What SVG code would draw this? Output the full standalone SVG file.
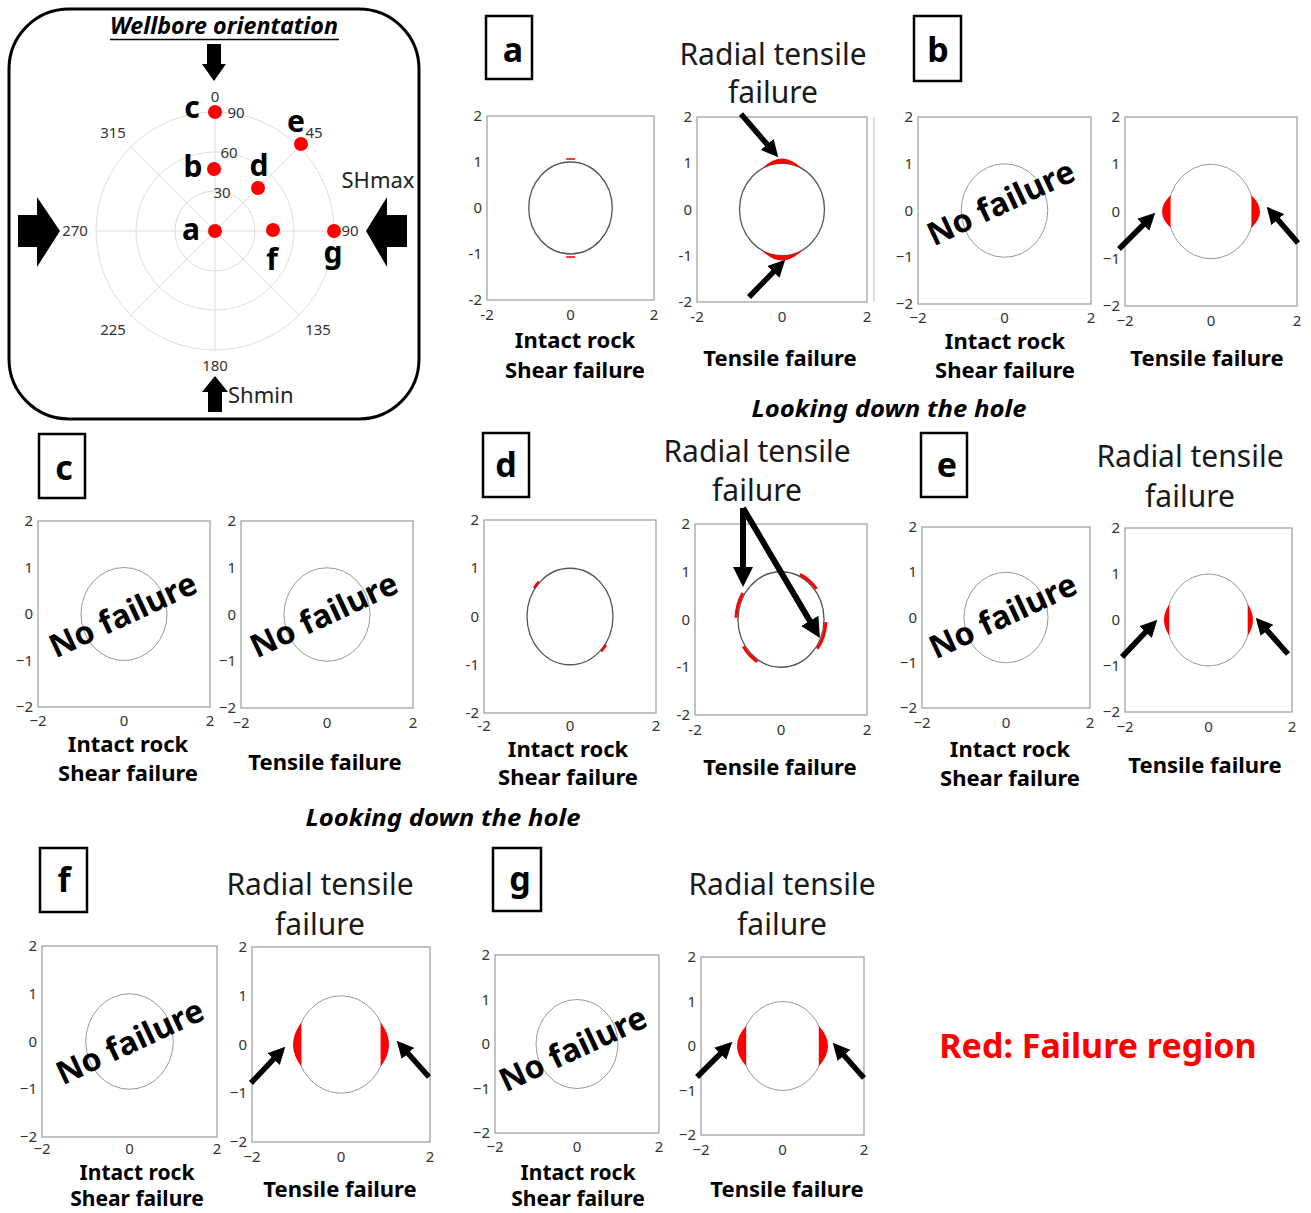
<svg xmlns="http://www.w3.org/2000/svg" width="1311" height="1213" viewBox="0 0 1311 1213">
<defs>
<style>
text{font-family:"Noto Sans","Open Sans","Liberation Sans",sans-serif}
.ax{fill:none;stroke:#9a9a9a;stroke-width:1.2}
.bd{fill:none;stroke:#555;stroke-width:1.3}
.bl{fill:none;stroke:#999;stroke-width:1}
.tkl{font-size:15px;fill:#333;text-anchor:end}
.tkb{font-size:15px;fill:#333;text-anchor:middle}
.cap{font-size:22px;font-weight:700;fill:#000;text-anchor:middle}
.cs{font-size:21px}
.ttl{font-size:30px;fill:#1a1a1a;text-anchor:middle}
.nf{font-size:32px;font-weight:700;fill:#000;text-anchor:middle}
.lb{fill:#fff;stroke:#000;stroke-width:2.5}
.lbt{font-size:34px;font-weight:700;fill:#000;text-anchor:middle}
.red{fill:#f00;stroke:none}
.redl{fill:none;stroke:#f00;stroke-width:3}
.arr{stroke:#000;stroke-width:5.5;fill:none;marker-end:url(#ah)}
.arrL{stroke:#000;stroke-width:6;fill:none;marker-end:url(#ahL)}
.grid{fill:none;stroke:#ddd;stroke-width:1}
.pl{font-size:15px;fill:#333;text-anchor:middle}
.pt{font-size:30px;font-weight:700;fill:#000;text-anchor:middle}
.look{font-size:23px;font-weight:700;font-style:italic;fill:#000;text-anchor:middle}
</style>
<marker id="ah" viewBox="0 0 16 16" refX="10" refY="8" markerWidth="17" markerHeight="17" markerUnits="userSpaceOnUse" orient="auto"><path d="M0,0 L16,8 L0,16 z" fill="#000"/></marker>
<marker id="ahL" viewBox="0 0 20 20" refX="13" refY="10" markerWidth="20" markerHeight="20" markerUnits="userSpaceOnUse" orient="auto"><path d="M0,0 L20,10 L0,20 z" fill="#000"/></marker>
</defs>
<rect width="1311" height="1213" fill="#fff"/>

<g id="orientation">
<rect x="9" y="9" width="410" height="410" rx="60" fill="#fff" stroke="#000" stroke-width="3"/>
<text x="224" y="34" class="look" textLength="228" lengthAdjust="spacingAndGlyphs">Wellbore orientation</text>
<line x1="110" y1="39.5" x2="339" y2="39.5" stroke="#000" stroke-width="1.5"/>
<circle class="grid" cx="215" cy="231" r="40"/>
<circle class="grid" cx="215" cy="231" r="79"/>
<circle class="grid" cx="215" cy="231" r="119"/>
<path class="grid" d="M215,112 V350 M96,231 H334 M130.9,146.9 L299.1,315.1 M299.1,146.9 L130.9,315.1"/>
<polygon points="207,44 221,44 221,64 226,64 214,81 202,64 207,64" fill="#000"/>
<polygon points="215,376 228,392 222,392 222,412 208,412 208,392 202,392" fill="#000"/>
<polygon points="18,215 37,215 37,197 60,231 37,267 37,247 18,247" fill="#000"/>
<polygon points="407,215 387,215 387,197 366,231 387,267 387,247 407,247" fill="#000"/>
<g fill="#f00">
<circle cx="215" cy="231" r="7"/>
<circle cx="214" cy="169" r="7"/>
<circle cx="215" cy="112" r="7"/>
<circle cx="258" cy="188" r="7"/>
<circle cx="301" cy="144" r="7"/>
<circle cx="273" cy="230" r="7"/>
<circle cx="334" cy="231" r="7"/>
</g>
<text class="pt" x="192" y="118">c</text>
<text class="pt" x="193" y="177">b</text>
<text class="pt" x="191" y="240">a</text>
<text class="pt" x="259" y="176">d</text>
<text class="pt" x="296" y="132">e</text>
<text class="pt" x="272" y="270">f</text>
<text class="pt" x="333" y="263">g</text>
<text class="pl" x="215" y="102">0</text>
<text class="pl" x="236" y="118">90</text>
<text class="pl" x="113" y="138">315</text>
<text class="pl" x="314" y="138">45</text>
<text class="pl" x="229" y="158">60</text>
<text class="pl" x="222" y="198">30</text>
<text class="pl" x="75" y="236">270</text>
<text class="pl" x="350" y="236">90</text>
<text class="pl" x="113" y="335">225</text>
<text class="pl" x="318" y="335">135</text>
<text class="pl" x="215" y="371">180</text>
<text x="378" y="188" font-size="22" fill="#222" text-anchor="middle">SHmax</text>
<text x="228" y="403" font-size="22" fill="#222">Shmin</text>
</g>

<g id="captions">
<text class="look" x="889" y="417" textLength="275" lengthAdjust="spacingAndGlyphs">Looking down the hole</text>
<text class="look" x="443" y="826" textLength="275" lengthAdjust="spacingAndGlyphs">Looking down the hole</text>
<text x="1098" y="1058" font-size="34" font-weight="700" fill="#f00" text-anchor="middle">Red: Failure region</text>
<line x1="874" y1="117" x2="874" y2="302" stroke="#bbb" stroke-width="1"/>
</g>

<!-- Panel a -->
<g id="panel-a">
<rect class="lb" x="486" y="16" width="46" height="63"/>
<text class="lbt" x="513" y="62">a</text>
<text class="ttl" x="773" y="65">Radial tensile</text>
<text class="ttl" x="773" y="103">failure</text>
<g id="a-left" transform="translate(487,116)">
<rect class="ax" width="167" height="184"/>
<ellipse class="bd" cx="83.5" cy="92" rx="41.75" ry="46"/>
<path d="M79,43 H88 M79,141 H88" stroke="#f00" stroke-width="1.5"/>
<text class="tkl" x="-5" y="5">2</text><text class="tkl" x="-5" y="51">1</text><text class="tkl" x="-5" y="97">0</text><text class="tkl" x="-5" y="143">-1</text><text class="tkl" x="-5" y="189">-2</text>
<text class="tkb" x="0" y="204">-2</text><text class="tkb" x="83.5" y="204">0</text><text class="tkb" x="167" y="204">2</text>
</g>
<g id="a-right" transform="translate(697,117)">
<rect class="ax" width="170" height="185"/>
<ellipse class="bd" cx="85" cy="92.5" rx="42.5" ry="46.25"/>
<path class="red" d="M64.5,52.1 Q85,30.9 105.5,52.1 A42.5,46.25 0 0 0 64.5,52.1 Z M64.5,132.9 Q85,154.1 105.5,132.9 A42.5,46.25 0 0 1 64.5,132.9 Z"/>
<text class="tkl" x="-5" y="5">2</text><text class="tkl" x="-5" y="51.25">1</text><text class="tkl" x="-5" y="97.5">0</text><text class="tkl" x="-5" y="143.75">-1</text><text class="tkl" x="-5" y="190">-2</text>
<text class="tkb" x="0" y="205">-2</text><text class="tkb" x="85" y="205">0</text><text class="tkb" x="170" y="205">2</text>
</g>
<text class="cap" x="575" y="348">Intact rock</text>
<text class="cap" x="575" y="378">Shear failure</text>
<text class="cap" x="780" y="366">Tensile failure</text>
</g>

<!-- Panel b -->
<g id="panel-b">
<rect class="lb" x="914" y="16" width="47" height="65"/>
<text class="lbt" x="938" y="62">b</text>
<g id="b-left" transform="translate(918,117)">
<rect class="ax" width="173" height="187"/>
<ellipse class="bl" cx="86.5" cy="93.5" rx="43.25" ry="46.75"/>
<text class="tkl" x="-5" y="5">2</text><text class="tkl" x="-5" y="51.75">1</text><text class="tkl" x="-5" y="98.5">0</text><text class="tkl" x="-5" y="145.25">−1</text><text class="tkl" x="-5" y="192">−2</text>
<text class="tkb" x="0" y="206">−2</text><text class="tkb" x="86.5" y="206">0</text><text class="tkb" x="173" y="206">2</text>
</g>
<text class="nf" transform="translate(1001,203) rotate(-25)" y="11">No failure</text>
<g id="b-right" transform="translate(1125,117)">
<rect class="ax" width="172" height="189"/>
<ellipse class="bl" cx="86" cy="94.5" rx="43" ry="47.25"/>
<path class="red" d="M45.6,78.3 Q28.4,94.5 45.6,110.7 Z M126.4,78.3 Q143.6,94.5 126.4,110.7 Z"/>
<text class="tkl" x="-5" y="5">2</text><text class="tkl" x="-5" y="52.25">1</text><text class="tkl" x="-5" y="99.5">0</text><text class="tkl" x="-5" y="146.75">−1</text><text class="tkl" x="-5" y="194">−2</text>
<text class="tkb" x="0" y="209">−2</text><text class="tkb" x="86" y="209">0</text><text class="tkb" x="172" y="209">2</text>
</g>
<text class="cap" x="1005" y="349">Intact rock</text>
<text class="cap" x="1005" y="378">Shear failure</text>
<text class="cap" x="1207" y="366">Tensile failure</text>
</g>

<!-- Panel c -->
<g id="panel-c">
<rect class="lb" x="39" y="434" width="46" height="64"/>
<text class="lbt" x="64" y="480">c</text>
<g id="c-left" transform="translate(38,521)">
<rect class="ax" width="172" height="186"/>
<ellipse class="bl" cx="86" cy="93" rx="43" ry="46.5"/>
<text class="tkl" x="-5" y="5">2</text><text class="tkl" x="-5" y="51.5">1</text><text class="tkl" x="-5" y="98">0</text><text class="tkl" x="-5" y="144.5">−1</text><text class="tkl" x="-5" y="191">−2</text>
<text class="tkb" x="0" y="205">−2</text><text class="tkb" x="86" y="205">0</text><text class="tkb" x="172" y="205">2</text>
</g>
<text class="nf" transform="translate(123,615) rotate(-25)" y="11">No failure</text>
<g id="c-right" transform="translate(241,521)">
<rect class="ax" width="172" height="187"/>
<ellipse class="bl" cx="86" cy="93.5" rx="43" ry="46.75"/>
<text class="tkl" x="-5" y="5">2</text><text class="tkl" x="-5" y="51.75">1</text><text class="tkl" x="-5" y="98.5">0</text><text class="tkl" x="-5" y="145.25">−1</text><text class="tkl" x="-5" y="192">−2</text>
<text class="tkb" x="0" y="207">−2</text><text class="tkb" x="86" y="207">0</text><text class="tkb" x="172" y="207">2</text>
</g>
<text class="nf" transform="translate(324,615) rotate(-25)" y="11">No failure</text>
<text class="cap" x="128" y="752">Intact rock</text>
<text class="cap" x="128" y="781">Shear failure</text>
<text class="cap" x="325" y="770">Tensile failure</text>
</g>

<!-- Panel d -->
<g id="panel-d">
<rect class="lb" x="483" y="433" width="46" height="64"/>
<text class="lbt" x="506" y="477">d</text>
<text class="ttl" x="757" y="462">Radial tensile</text>
<text class="ttl" x="757" y="501">failure</text>
<g id="d-left" transform="translate(484,520)">
<rect class="ax" width="172" height="193"/>
<ellipse class="bd" cx="86" cy="96.5" rx="43" ry="48.25"/>
<path d="M54.9,61.7 A44,49.25 0 0 0 50,68.2 M117.1,131.3 A44,49.25 0 0 0 122,124.8" fill="none" stroke="#f00" stroke-width="2.5"/>
<text class="tkl" x="-5" y="5">2</text><text class="tkl" x="-5" y="53.25">1</text><text class="tkl" x="-5" y="101.5">0</text><text class="tkl" x="-5" y="149.75">-1</text><text class="tkl" x="-5" y="198">-2</text>
<text class="tkb" x="0" y="211">-2</text><text class="tkb" x="86" y="211">0</text><text class="tkb" x="172" y="211">2</text>
</g>
<g id="d-right" transform="translate(695,524)">
<rect class="ax" width="172" height="191"/>
<ellipse class="bd" cx="86" cy="95.5" rx="43" ry="47.75"/>
<path class="redl" d="M121.5,64.9 A45,49.75 0 0 0 105,50.4 M47.8,69.1 A45,49.75 0 0 0 41,93.8 M48.3,122.6 A45,49.75 0 0 0 62.2,137.7 M122.4,124.7 A45,49.75 0 0 0 130.9,98.1"/>
<text class="tkl" x="-5" y="5">2</text><text class="tkl" x="-5" y="52.75">1</text><text class="tkl" x="-5" y="100.5">0</text><text class="tkl" x="-5" y="148.25">-1</text><text class="tkl" x="-5" y="196">-2</text>
<text class="tkb" x="0" y="211">-2</text><text class="tkb" x="86" y="211">0</text><text class="tkb" x="172" y="211">2</text>
</g>
<text class="cap" x="568" y="757">Intact rock</text>
<text class="cap" x="568" y="785">Shear failure</text>
<text class="cap" x="780" y="775">Tensile failure</text>
</g>

<!-- Panel e -->
<g id="panel-e">
<rect class="lb" x="921" y="433" width="46" height="64"/>
<text class="lbt" x="947" y="477">e</text>
<text class="ttl" x="1190" y="467">Radial tensile</text>
<text class="ttl" x="1190" y="507">failure</text>
<g id="e-left" transform="translate(922,527)">
<rect class="ax" width="168" height="181"/>
<ellipse class="bl" cx="84" cy="90.5" rx="42" ry="45.25"/>
<text class="tkl" x="-5" y="5">2</text><text class="tkl" x="-5" y="50.25">1</text><text class="tkl" x="-5" y="95.5">0</text><text class="tkl" x="-5" y="140.75">−1</text><text class="tkl" x="-5" y="186">−2</text>
<text class="tkb" x="0" y="201">−2</text><text class="tkb" x="84" y="201">0</text><text class="tkb" x="168" y="201">2</text>
</g>
<text class="nf" transform="translate(1003,616) rotate(-25)" y="11">No failure</text>
<g id="e-right" transform="translate(1125,528)">
<rect class="ax" width="167" height="184"/>
<ellipse class="bl" cx="83.5" cy="92" rx="41.75" ry="46"/>
<path class="red" d="M44.3,76.3 Q33.7,92 44.3,107.7 Z M122.7,76.3 Q133.3,92 122.7,107.7 Z"/>
<text class="tkl" x="-5" y="5">2</text><text class="tkl" x="-5" y="51">1</text><text class="tkl" x="-5" y="97">0</text><text class="tkl" x="-5" y="143">−1</text><text class="tkl" x="-5" y="189">−2</text>
<text class="tkb" x="0" y="204">−2</text><text class="tkb" x="83.5" y="204">0</text><text class="tkb" x="167" y="204">2</text>
</g>
<text class="cap" x="1010" y="757">Intact rock</text>
<text class="cap" x="1010" y="786">Shear failure</text>
<text class="cap" x="1205" y="773">Tensile failure</text>
</g>

<!-- Panel f -->
<g id="panel-f">
<rect class="lb" x="40" y="848" width="47" height="64"/>
<text class="lbt" x="64" y="892">f</text>
<text class="ttl" x="320" y="895">Radial tensile</text>
<text class="ttl" x="320" y="935">failure</text>
<g id="f-left" transform="translate(42,946)">
<rect class="ax" width="175" height="191"/>
<ellipse class="bl" cx="87.5" cy="95.5" rx="43.75" ry="47.75"/>
<text class="tkl" x="-5" y="5">2</text><text class="tkl" x="-5" y="52.75">1</text><text class="tkl" x="-5" y="100.5">0</text><text class="tkl" x="-5" y="148.25">−1</text><text class="tkl" x="-5" y="196">−2</text>
<text class="tkb" x="0" y="208">−2</text><text class="tkb" x="87.5" y="208">0</text><text class="tkb" x="175" y="208">2</text>
</g>
<text class="nf" transform="translate(130,1042) rotate(-25)" y="11">No failure</text>
<g id="f-right" transform="translate(252,947)">
<rect class="ax" width="178" height="195"/>
<ellipse class="bl" cx="89" cy="97.5" rx="44.5" ry="48.75"/>
<path class="red" d="M49.4,75.4 Q32.7,97.5 49.4,119.6 Z M128.6,75.4 Q145.4,97.5 128.6,119.6 Z"/>
<text class="tkl" x="-5" y="5">2</text><text class="tkl" x="-5" y="53.75">1</text><text class="tkl" x="-5" y="102.5">0</text><text class="tkl" x="-5" y="151.25">−1</text><text class="tkl" x="-5" y="200">−2</text>
<text class="tkb" x="0" y="215">−2</text><text class="tkb" x="89" y="215">0</text><text class="tkb" x="178" y="215">2</text>
</g>
<text class="cap cs" x="137" y="1180">Intact rock</text>
<text class="cap cs" x="137" y="1206">Shear failure</text>
<text class="cap" x="340" y="1197">Tensile failure</text>
</g>

<!-- Panel g -->
<g id="panel-g">
<rect class="lb" x="493" y="848" width="48" height="63"/>
<text class="lbt" x="520" y="891">g</text>
<text class="ttl" x="782" y="895">Radial tensile</text>
<text class="ttl" x="782" y="935">failure</text>
<g id="g-left" transform="translate(495,955)">
<rect class="ax" width="164" height="178"/>
<ellipse class="bl" cx="82" cy="89" rx="41" ry="44.5"/>
<text class="tkl" x="-5" y="5">2</text><text class="tkl" x="-5" y="49.5">1</text><text class="tkl" x="-5" y="94">0</text><text class="tkl" x="-5" y="138.5">−1</text><text class="tkl" x="-5" y="183">−2</text>
<text class="tkb" x="0" y="197">−2</text><text class="tkb" x="82" y="197">0</text><text class="tkb" x="164" y="197">2</text>
</g>
<text class="nf" transform="translate(573,1049) rotate(-25)" y="11">No failure</text>
<g id="g-right" transform="translate(701,957)">
<rect class="ax" width="163" height="178"/>
<ellipse class="bl" cx="81.5" cy="89" rx="40.75" ry="44.5"/>
<path class="red" d="M45.2,68.8 Q26.8,89 45.2,109.2 Z M117.8,68.8 Q136.2,89 117.8,109.2 Z"/>
<text class="tkl" x="-5" y="5">2</text><text class="tkl" x="-5" y="49.5">1</text><text class="tkl" x="-5" y="94">0</text><text class="tkl" x="-5" y="138.5">−1</text><text class="tkl" x="-5" y="183">−2</text>
<text class="tkb" x="0" y="198">−2</text><text class="tkb" x="81.5" y="198">0</text><text class="tkb" x="163" y="198">2</text>
</g>
<text class="cap cs" x="578" y="1180">Intact rock</text>
<text class="cap cs" x="578" y="1206">Shear failure</text>
<text class="cap" x="787" y="1197">Tensile failure</text>
</g>

<g id="connectors">
<line class="arr" x1="741" y1="114" x2="774.1" y2="152.4"/>
<line class="arr" x1="749" y1="297" x2="780.8" y2="264.3"/>
<line class="arr" x1="1119" y1="249" x2="1150.8" y2="217.2"/>
<line class="arr" x1="1298" y1="243" x2="1270.9" y2="211.6"/>
<line class="arrL" x1="743" y1="508" x2="743" y2="580"/>
<line class="arrL" x1="743" y1="508" x2="816.4" y2="632"/>
<line class="arr" x1="1122" y1="657" x2="1152.9" y2="624.4"/>
<line class="arr" x1="1288" y1="654" x2="1260" y2="622.5"/>
<line class="arr" x1="251" y1="1083" x2="280.9" y2="1051.4"/>
<line class="arr" x1="429" y1="1077" x2="401" y2="1045.5"/>
<line class="arr" x1="697" y1="1077" x2="727.8" y2="1046.2"/>
<line class="arr" x1="864" y1="1078" x2="837" y2="1047.5"/>
</g>
</svg>
